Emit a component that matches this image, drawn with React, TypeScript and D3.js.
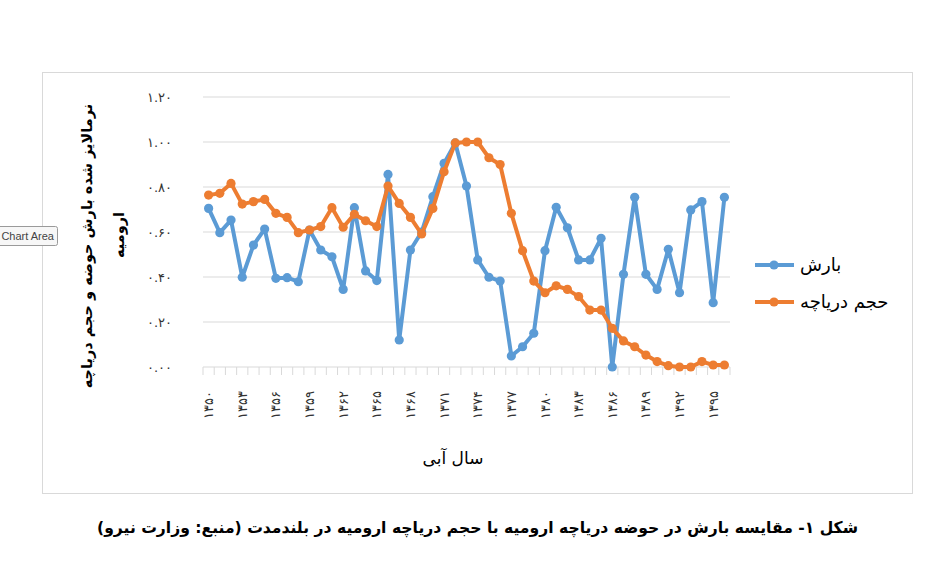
import React from "react";
import * as d3 from "d3";

const years = [
  1350, 1351, 1352, 1353, 1354, 1355, 1356, 1357, 1358, 1359,
  1360, 1361, 1362, 1363, 1364, 1365, 1366, 1367, 1368, 1369,
  1370, 1371, 1372, 1373, 1374, 1375, 1376, 1377, 1378, 1379,
  1380, 1381, 1382, 1383, 1384, 1385, 1386, 1387, 1388, 1389,
  1390, 1391, 1392, 1393, 1394, 1395, 1396,
];

// بارش (normalized rainfall)
const rainfall = [
  0.705, 0.597, 0.653, 0.399, 0.542, 0.613, 0.394, 0.397, 0.379, 0.609,
  0.52, 0.49, 0.345, 0.708, 0.427, 0.384, 0.856, 0.12, 0.52, 0.6,
  0.757, 0.905, 0.996, 0.804, 0.476, 0.399, 0.382, 0.049, 0.09, 0.15,
  0.517, 0.71, 0.619, 0.476, 0.476, 0.572, 0.0, 0.412, 0.754, 0.412,
  0.345, 0.523, 0.33, 0.698, 0.735, 0.286, 0.754,
];

// حجم دریاچه (normalized lake volume)
const lakeVolume = [
  0.764, 0.772, 0.816, 0.724, 0.735, 0.745, 0.683, 0.665, 0.597, 0.609,
  0.624, 0.708, 0.621, 0.679, 0.65, 0.624, 0.804, 0.727, 0.665, 0.591,
  0.705, 0.868, 0.996, 1.0, 1.0, 0.93, 0.9, 0.683, 0.517, 0.382,
  0.33, 0.361, 0.345, 0.313, 0.253, 0.253, 0.172, 0.116, 0.09, 0.053,
  0.024, 0.006, 0.0, 0.0, 0.024, 0.009, 0.009,
];

const yTicks = [0, 0.2, 0.4, 0.6, 0.8, 1.0, 1.2];

const seriesNames = ["بارش", "حجم دریاچه"];
const seriesColors = ["#5B9BD5", "#ED7D31"];

const yTitleLine1 = "نرمالایز شده بارش حوضه و حجم دریاچه";
const yTitleLine2 = "ارومیه";
const xTitle = "سال آبی";
const caption =
  "شکل ۱- مقایسه بارش در حوضه دریاچه ارومیه با حجم دریاچه ارومیه در بلندمدت (منبع: وزارت نیرو)";

const faDigits = "۰۱۲۳۴۵۶۷۸۹";
const toFa = (s: string) => s.replace(/[0-9]/g, (d) => faDigits[+d]);

const FONT = "DejaVu Sans";

export default function App() {
  const W = 939;
  const H = 587;
  const x = d3.scaleBand<number>().domain(years).range([203, 730]).padding(0);
  const y = d3.scaleLinear().domain([0, 1.2]).range([367, 97]);
  const cx = (yr: number) => (x(yr) as number) + x.bandwidth() / 2;

  const line = d3
    .line<number>()
    .x((_, i) => cx(years[i]))
    .y((d) => y(d));

  const series = [rainfall, lakeVolume];
  const boundaries = [...years.map((yr) => x(yr) as number), 730];
  const labelYears = years.filter((_, i) => i % 3 === 0);

  return (
    <svg
      width={W}
      height={H}
      style={{ position: "absolute", left: 0, top: 0, background: "#fff" }}
      fontFamily={FONT}
    >
      <rect x={0} y={0} width={W} height={H} fill="#fff" />
      {/* chart area border */}
      <rect x={42.5} y={72.5} width={870} height={421} fill="#fff" stroke="#d9d9d9" strokeWidth={1} />

      {/* gridlines */}
      {yTicks.slice(1).map((t) => (
        <line key={t} x1={203} x2={730} y1={y(t)} y2={y(t)} stroke="#d9d9d9" strokeWidth={1} />
      ))}
      {/* x axis */}
      <line x1={203} x2={730} y1={y(0)} y2={y(0)} stroke="#d9d9d9" strokeWidth={1} />
      {boundaries.map((b, i) => (
        <line key={i} x1={b} x2={b} y1={y(0)} y2={y(0) + 8} stroke="#d9d9d9" strokeWidth={1} />
      ))}

      {/* y tick labels */}
      {yTicks.map((t) => (
        <text key={t} x={172} y={y(t)} dy="0.35em" textAnchor="end" fontSize={13} fill="#333">
          {toFa(t.toFixed(2))}
        </text>
      ))}

      {/* x tick labels */}
      {labelYears.map((yr) => (
        <text
          key={yr}
          transform={`translate(${cx(yr)},391) rotate(-90)`}
          textAnchor="end"
          dy="0.35em"
          fontSize={13}
          fill="#333"
        >
          {toFa(String(yr))}
        </text>
      ))}

      {/* series */}
      {series.map((s, k) => (
        <g key={k}>
          <path d={line(s) || ""} fill="none" stroke={seriesColors[k]} strokeWidth={4} strokeLinejoin="round" />
          {s.map((v, i) => (
            <circle key={i} cx={cx(years[i])} cy={y(v)} r={4.6} fill={seriesColors[k]} />
          ))}
        </g>
      ))}

      {/* axis titles */}
      <text x={453} y={458} dy="0.35em" textAnchor="middle" fontSize={17} fill="#000">
        {xTitle}
      </text>
      <g fontSize={14.5} fill="#000" fontWeight="bold">
        <text transform="translate(87,246) rotate(-90)" textAnchor="middle" dy="0.35em">
          {yTitleLine1}
        </text>
        <text transform="translate(119,235) rotate(-90)" textAnchor="middle" dy="0.35em">
          {yTitleLine2}
        </text>
      </g>

      {/* legend */}
      {seriesNames.map((n, k) => {
        const ly = k === 0 ? 265 : 302;
        return (
          <g key={n}>
            <line x1={755} x2={794} y1={ly} y2={ly} stroke={seriesColors[k]} strokeWidth={4} />
            <circle cx={774} cy={ly} r={4.6} fill={seriesColors[k]} />
            <text x={800} y={ly} dy="0.35em" fontSize={18} fill="#000">
              {n}
            </text>
          </g>
        );
      })}

      {/* Chart Area tooltip */}
      <rect x={-3.5} y={226.5} width={61} height={19} fill="#f7f7f7" stroke="#9a9a9a" rx={2} />
      <text x={54} y={236} dy="0.35em" textAnchor="end" fontSize={11} fill="#444" fontFamily="Liberation Sans">
        Chart Area
      </text>

      {/* caption */}
      <text
        x={477.5}
        y={527}
        dy="0.35em"
        textAnchor="middle"
        fontSize={16}
        fontWeight="bold"
        fill="#000"
        textLength={761}
        lengthAdjust="spacingAndGlyphs"
      >
        {caption}
      </text>
    </svg>
  );
}
